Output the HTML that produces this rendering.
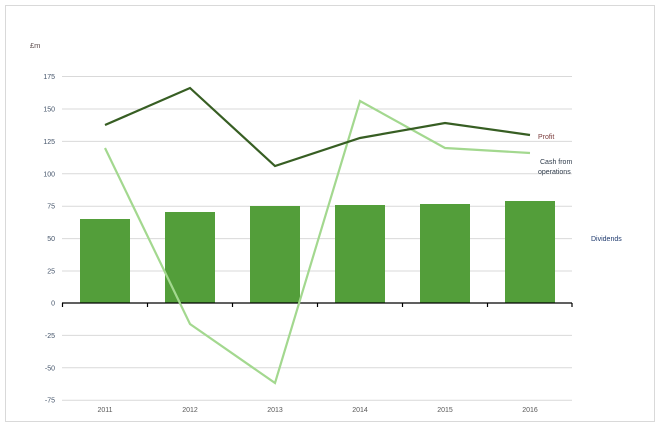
<!DOCTYPE html>
<html><head><style>
body{margin:0;background:#fff;}
svg{display:block;font-family:"Liberation Sans",sans-serif;}
</style></head><body>
<svg width="659" height="429" viewBox="0 0 659 429">
<rect x="5.5" y="5.5" width="649" height="416" fill="#fff" stroke="#d9d9d9" stroke-width="1"/>
<text x="30" y="48" font-size="7.5" fill="#5a4a4a">£m</text>
<g stroke="#d9d9d9" stroke-width="1">
<line x1="62" x2="572" y1="76.5" y2="76.5"/>
<line x1="62" x2="572" y1="109" y2="109"/>
<line x1="62" x2="572" y1="141.4" y2="141.4"/>
<line x1="62" x2="572" y1="173.8" y2="173.8"/>
<line x1="62" x2="572" y1="206.2" y2="206.2"/>
<line x1="62" x2="572" y1="238.6" y2="238.6"/>
<line x1="62" x2="572" y1="271" y2="271"/>
<line x1="62" x2="572" y1="335.4" y2="335.4"/>
<line x1="62" x2="572" y1="367.8" y2="367.8"/>
<line x1="62" x2="572" y1="400.2" y2="400.2"/>
</g>
<g font-size="7" fill="#44546a" text-anchor="end">
<text x="55" y="79">175</text><text x="55" y="111.5">150</text><text x="55" y="144">125</text>
<text x="55" y="176.3">100</text><text x="55" y="208.7">75</text><text x="55" y="241">50</text>
<text x="55" y="273.5">25</text><text x="55" y="305.5">0</text><text x="55" y="338">-25</text>
<text x="55" y="370.3">-50</text><text x="55" y="402.7">-75</text>
</g>
<g fill="#539e3a">
<rect x="80" y="219" width="50" height="84"/>
<rect x="165" y="212" width="50" height="91"/>
<rect x="250" y="206" width="50" height="97"/>
<rect x="335" y="205" width="50" height="98"/>
<rect x="420" y="204" width="50" height="99"/>
<rect x="505" y="201" width="50" height="102"/>
</g>
<g stroke="#000" stroke-width="1.2">
<line x1="62" x2="572" y1="303" y2="303"/>
<line x1="62.5" x2="62.5" y1="303" y2="307"/><line x1="147.5" x2="147.5" y1="303" y2="307"/>
<line x1="232.5" x2="232.5" y1="303" y2="307"/><line x1="317.5" x2="317.5" y1="303" y2="307"/>
<line x1="402.5" x2="402.5" y1="303" y2="307"/><line x1="487.5" x2="487.5" y1="303" y2="307"/>
<line x1="572" x2="572" y1="303" y2="307"/>
</g>
<polyline points="105,148 190,324 275,383 360,101 445,148 530,153" fill="none" stroke="#a3d88f" stroke-width="2.2"/>
<polyline points="105,125 190,88 275,166 360,138 445,123 530,135" fill="none" stroke="#375e23" stroke-width="2.2"/>
<g font-size="7" fill="#595959" text-anchor="middle">
<text x="105" y="412">2011</text><text x="190" y="412">2012</text><text x="275" y="412">2013</text>
<text x="360" y="412">2014</text><text x="445" y="412">2015</text><text x="530" y="412">2016</text>
</g>
<text x="538" y="139" font-size="7" fill="#7a3b3b">Profit</text>
<text x="540" y="164" font-size="7" fill="#2f3b4a">Cash from</text>
<text x="538" y="174" font-size="7" fill="#2f3b4a">operations</text>
<text x="591" y="241" font-size="7" fill="#1f3a6e">Dividends</text>
</svg>
</body></html>
